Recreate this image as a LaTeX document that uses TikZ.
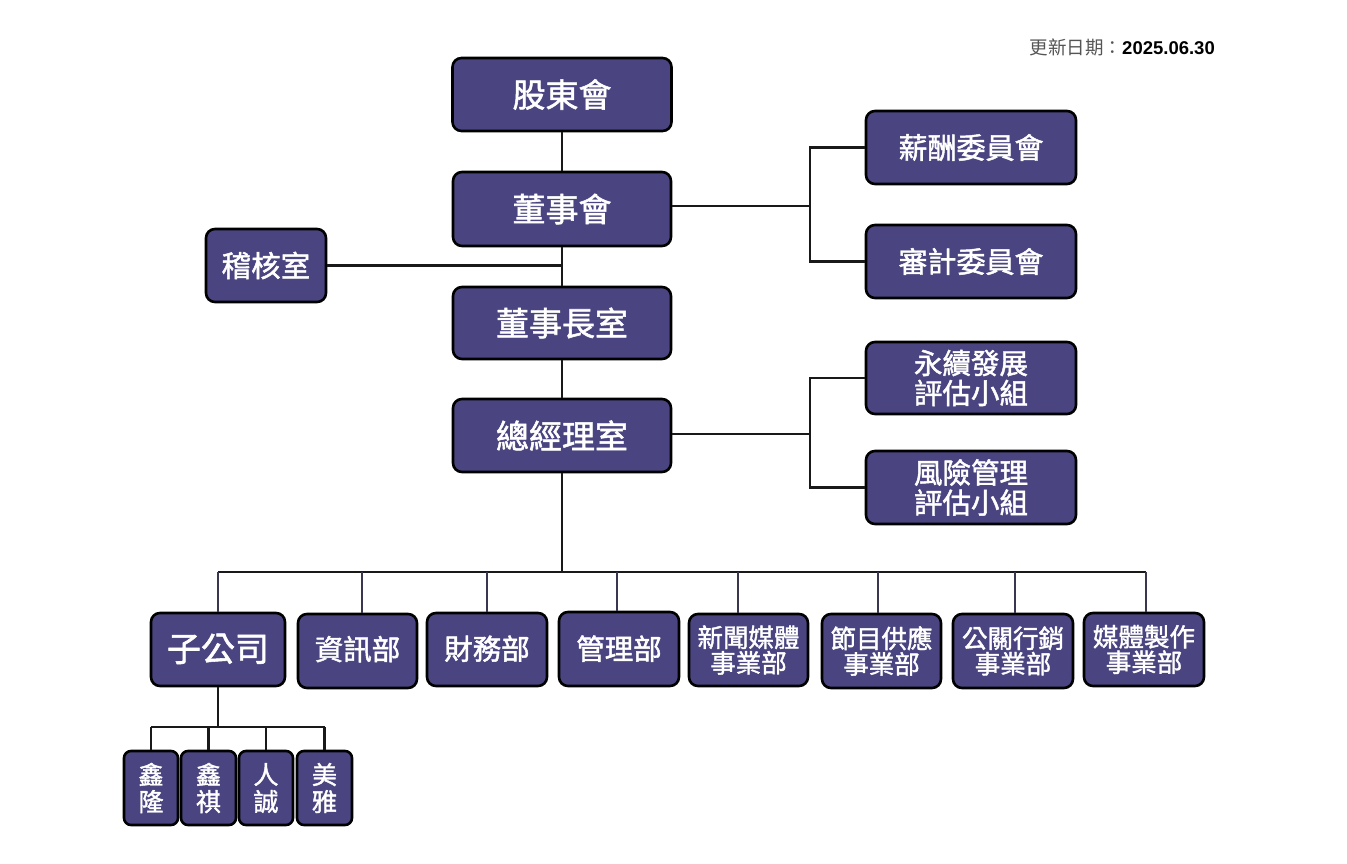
\documentclass[tikz,border=0pt]{standalone}
\usepackage{fontspec}
\newfontfamily\cjk{Noto Sans CJK TC}
\newfontfamily\cjkm[FakeBold=1.6]{Noto Sans CJK TC}
\setmainfont{Liberation Sans}
\definecolor{boxfill}{RGB}{74,69,128}
\definecolor{dropc}{RGB}{58,54,80}
\definecolor{dategray}{RGB}{85,85,85}
\begin{document}
\begin{tikzpicture}[x=1pt,y=-1pt,
  orgbox/.style={draw=black, line width=2.6pt, fill=boxfill, rounded corners=9pt,
    text=white, font=\cjkm, align=center, inner sep=0pt, anchor=center},
  conn/.style={line width=2.8pt, draw=black!90},
  dropline/.style={line width=2.4pt, draw=dropc}]
\useasboundingbox (0,0) rectangle (1347,864);
\fill[white] (0,0) rectangle (1347,864);
% date
\node[anchor=east, inner sep=0pt] (date) at (1215,47) {{\cjk\fontsize{18.5}{20}\selectfont\color{dategray}更新日期：}{\fontsize{18.5}{20}\selectfont\bfseries 2025.06.30}};
% top column
\node[orgbox, minimum width=219pt, minimum height=73pt, font=\cjkm\fontsize{33}{35}\selectfont] (gd) at (562,94.5) {股東會};
\node[orgbox, minimum width=218pt, minimum height=74pt, font=\cjkm\fontsize{33}{35}\selectfont] (dsh) at (562,209) {董事會};
\node[orgbox, minimum width=120pt, minimum height=73pt, font=\cjkm\fontsize{29.5}{31}\selectfont] (jh) at (266,265.5) {稽核室};
\node[orgbox, minimum width=218pt, minimum height=72pt, font=\cjkm\fontsize{33}{35}\selectfont] (dsz) at (562,323) {董事長室};
\node[orgbox, minimum width=218pt, minimum height=73pt, font=\cjkm\fontsize{33}{35}\selectfont] (zjl) at (562,435.5) {總經理室};
% right committees
\node[orgbox, minimum width=210pt, minimum height=73pt, font=\cjkm\fontsize{29}{31}\selectfont] (xc) at (971,147.5) {薪酬委員會};
\node[orgbox, minimum width=210pt, minimum height=73pt, font=\cjkm\fontsize{29}{31}\selectfont] (sj) at (971,261.5) {審計委員會};
\node[orgbox, minimum width=210pt, minimum height=72pt, font=\cjkm\fontsize{28.5}{30}\selectfont] (yx) at (971,378) {永續發展\\評估小組};
\node[orgbox, minimum width=210pt, minimum height=73pt, font=\cjkm\fontsize{28.5}{30}\selectfont] (fx) at (971,487.5) {風險管理\\評估小組};
% bottom departments
\node[orgbox, minimum width=134pt, minimum height=73pt, font=\cjkm\fontsize{34}{36}\selectfont] (zgs) at (218,649.5) {\raisebox{4pt}{子公司}};
\node[orgbox, minimum width=119pt, minimum height=74pt, font=\cjkm\fontsize{28.5}{30}\selectfont] (zx) at (357.5,651) {\raisebox{6pt}{資訊部}};
\node[orgbox, minimum width=120pt, minimum height=73pt, font=\cjkm\fontsize{28.5}{30}\selectfont] (cw) at (487,649.5) {\raisebox{4pt}{財務部}};
\node[orgbox, minimum width=120pt, minimum height=74pt, font=\cjkm\fontsize{28.5}{30}\selectfont] (gl) at (619,649) {\raisebox{3pt}{管理部}};
\node[orgbox, minimum width=119pt, minimum height=72pt, font=\cjkm\fontsize{25.5}{25.5}\selectfont] (xw) at (748.5,650) {新聞媒體\\事業部};
\node[orgbox, minimum width=119pt, minimum height=74pt, font=\cjkm\fontsize{25.5}{25.5}\selectfont] (jm) at (881.5,651) {節目供應\\事業部};
\node[orgbox, minimum width=120pt, minimum height=74pt, font=\cjkm\fontsize{25.5}{25.5}\selectfont] (gg) at (1013,651) {公關行銷\\事業部};
\node[orgbox, minimum width=120pt, minimum height=73pt, font=\cjkm\fontsize{25.5}{25.5}\selectfont] (mt) at (1144,649.5) {媒體製作\\事業部};
% subsidiaries
\node[orgbox, minimum width=54pt, minimum height=74pt, rounded corners=7pt, font=\cjkm\fontsize{25}{27}\selectfont] (s1) at (151,788) {鑫\\隆};
\node[orgbox, minimum width=55pt, minimum height=74pt, rounded corners=7pt, font=\cjkm\fontsize{25}{27}\selectfont] (s2) at (208.5,788) {鑫\\祺};
\node[orgbox, minimum width=54pt, minimum height=74pt, rounded corners=7pt, font=\cjkm\fontsize{25}{27}\selectfont] (s3) at (266,788) {人\\誠};
\node[orgbox, minimum width=55pt, minimum height=74pt, rounded corners=7pt, font=\cjkm\fontsize{25}{27}\selectfont] (s4) at (324.5,788) {美\\雅};
% coordinates
\coordinate (bj1) at (810,206);
\coordinate (bj2) at (810,434);
\coordinate (mainbot) at (562,572);
\coordinate (barL) at (218,572);
\coordinate (barR) at (1146,572);
\coordinate (subL) at (151,727);
\coordinate (subR) at (324.5,727);
% connectors
\draw[conn] (gd.south) -- (dsh.north);
\draw[conn] (dsh.south) -- (dsz.north);
\draw[conn] (dsz.south) -- (zjl.north);
\draw[conn] (zjl.south) -- (mainbot);
\draw[conn] (jh.east) -- (jh.east -| dsh.south);
\draw[conn] (dsh.east |- bj1) -- (bj1);
\draw[conn] (xc.west) -| (bj1) |- (sj.west);
\draw[conn] (zjl.east |- bj2) -- (bj2);
\draw[conn] (yx.west) -| (bj2) |- (fx.west);
\draw[conn] (barL) -- (barR);
\foreach \n/\o in {zgs/0,zx/4.5,cw/0,gl/-2,xw/-10.5,jm/-3.5,gg/2,mt/2}{
  \draw[dropline] ([xshift=\o pt]\n.north |- barL) -- ([xshift=\o pt]\n.north);
}
\draw[conn] (zgs.south) -- (zgs.south |- subL);
\draw[conn] (subL) -- (subR);
\foreach \n in {s1,s2,s3,s4}{
  \draw[conn] (\n.north |- subL) -- (\n.north);
}
\end{tikzpicture}
\end{document}
